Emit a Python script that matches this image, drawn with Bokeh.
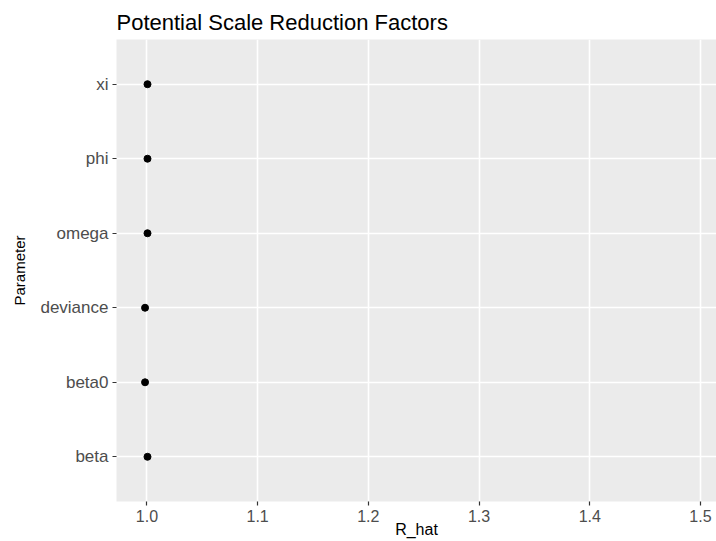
from bokeh.plotting import figure
from bokeh.models import FactorRange, Range1d
from bokeh.embed import file_html
from bokeh.resources import INLINE

# Data
parameters = ["beta", "beta0", "deviance", "omega", "phi", "xi"]
r_hat = [1.0005, 0.9983, 0.9983, 1.0005, 1.0005, 1.0005]
x_ticks = [1.0, 1.1, 1.2, 1.3, 1.4, 1.5]

FONT = "Liberation Sans, Arial, sans-serif"

p = figure(
    width=716, height=541,
    y_range=FactorRange(factors=parameters, range_padding=1/30),
    x_range=Range1d(0.9725, 1.5145),
    output_backend="svg", toolbar_location=None,
    min_border_left=116, min_border_right=0, min_border_top=39, min_border_bottom=40,
)

p.title.text = "Potential Scale Reduction Factors"
p.title.text_font = FONT
p.title.text_font_size = "22px"
p.title.text_font_style = "normal"
p.title.text_color = "#000000"
p.title.align = "left"
p.title.offset = 0
p.title.standoff = 9

p.background_fill_color = "#EBEBEB"
p.border_fill_color = "#FFFFFF"
p.outline_line_color = None

p.scatter(r_hat, parameters, size=7, color="#000000")

# grids
p.xgrid.ticker = x_ticks
p.xgrid.grid_line_color = "#FFFFFF"
p.xgrid.grid_line_width = 1.6
p.xgrid.minor_grid_line_color = "#FFFFFF"
p.xgrid.minor_grid_line_width = 0.9
p.ygrid.grid_line_color = "#FFFFFF"
p.ygrid.grid_line_width = 1.6

p.xaxis.ticker = x_ticks
p.xaxis.ticker.num_minor_ticks = 2
p.xaxis.major_label_overrides = {t: f"{t:.1f}" for t in x_ticks}

for ax in (p.xaxis[0], p.yaxis[0]):
    ax.axis_line_color = None
    ax.major_tick_line_color = "#333333"
    ax.major_tick_line_width = 1.2
    ax.major_tick_out = 4
    ax.major_tick_in = 0
    ax.minor_tick_line_color = None
    ax.major_label_text_font = FONT
    ax.major_label_text_color = "#4D4D4D"
    ax.axis_label_text_font = FONT
    ax.axis_label_text_font_style = "normal"
    ax.axis_label_text_color = "#000000"

p.xaxis.major_label_text_font_size = "16px"
p.yaxis.major_label_text_font_size = "17px"

p.xaxis.axis_label = "R_hat"
p.xaxis.axis_label_text_font_size = "16px"
p.xaxis.major_label_standoff = 4
p.xaxis.axis_label_standoff = -4

p.yaxis.axis_label = "Parameter"
p.yaxis.axis_label_text_font_size = "15px"
p.yaxis.major_label_standoff = 4
p.yaxis.axis_label_standoff = 9

open("out.html", "w").write(file_html(p, INLINE))
